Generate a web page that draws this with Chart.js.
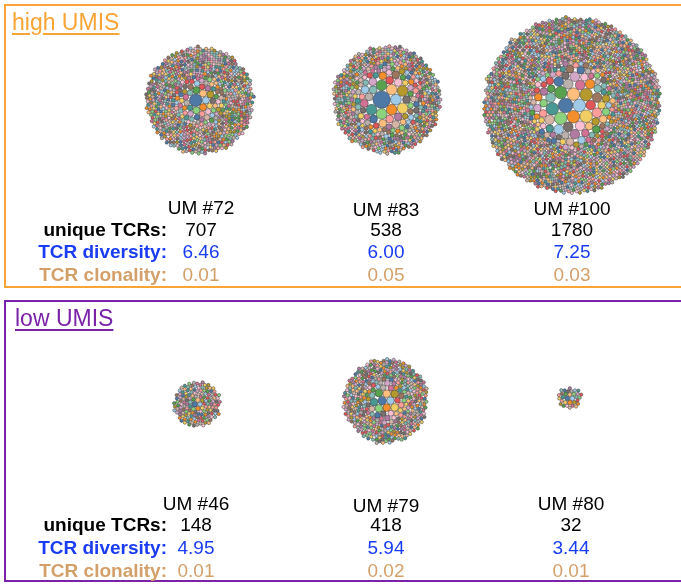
<!DOCTYPE html>
<html>
<head>
<meta charset="utf-8">
<script src="https://cdn.jsdelivr.net/npm/chart.js@4.4.1/dist/chart.umd.min.js"></script>
<style>
  html, body { margin: 0; padding: 0; background: #fff; width: 681px; height: 584px; overflow: hidden; }
  #wrap { position: relative; width: 681px; height: 584px; overflow: hidden; font-family: "Liberation Sans", Arial, sans-serif; }
  #chart { position: absolute; left: 0; top: 0; }
  .panel { position: absolute; left: 4px; width: 720px; box-sizing: border-box; border: 2.5px solid; }
  .title { position: absolute; font-size: 23px; line-height: 1; text-decoration: underline; text-underline-offset: 3px; }
  .t { position: absolute; white-space: nowrap; font-size: 19px; line-height: 1; transform: translate(-50%, -50%); }
  .lab { font-weight: bold; transform: translate(-100%, -50%); }
</style>
</head>
<body>
<div id="wrap">
  <canvas id="chart" width="681" height="584"></canvas>
</div>
<script>
// samples, top row then bottom row
const samples = ['UM #72', 'UM #83', 'UM #100', 'UM #46', 'UM #79', 'UM #80'];
const uniqueTCRs = [707, 538, 1780, 148, 418, 32];
const diversity = ['6.46', '6.00', '7.25', '4.95', '5.94', '3.44'];
const clonality = ['0.01', '0.05', '0.03', '0.01', '0.02', '0.01'];
const rowLabels = ['unique TCRs:', 'TCR diversity:', 'TCR clonality:'];
const groups = ['high UMIS', 'low UMIS'];

// biggest clones as [relative size, how many]; the rest are singletons
const topClones = [
    [[15, 1], [5, 6], [3.2, 15], [2.2, 30], [1.5, 40]],
    [[29, 1], [11, 8], [6, 15], [3.2, 30], [2, 50], [1.4, 60]],
    [[20, 1], [15, 8], [9, 14], [5.7, 24], [3.2, 35], [2, 40]],
    [[3, 1], [2, 3], [1.5, 6]],
    [[7, 1], [5.7, 8], [3.2, 12], [2, 20], [1.4, 30]],
    [[2.2, 3], [1.5, 6]]
];

const palette = ['#4e79a7', '#a0cbe8', '#f28e2b', '#ffbe7d', '#59a14f', '#8cd17d', '#b6992d', '#f1ce63',
    '#499894', '#86bcb6', '#e15759', '#ff9d9a', '#79706e', '#bab0ac', '#d37295', '#fabfd2',
    '#b07aa1', '#d4a6c8', '#9d7660', '#d7b5a6'];
const groupColors = ['#f8a535', '#7a22a8'];
const labelColors = ['#000000', '#1a3cf2', '#d4a06a'];

// layout
const W = 681, H = 584;
const centers = [[200, 100], [387, 100], [572, 105], [197, 404], [385, 401], [570, 398]];
const colX = [[201, 386, 572], [196, 386, 571]];
const titleY = [[207, 209, 208], [503, 505, 503]];
const rowY = [[229, 251, 274], [524, 547, 570]];
const R0 = 1.62;
const PAD = 0.1;
const BORDER = 0.55;

/**
 * Front-chain circle packing (same idea as d3.packSiblings)
 */
function place(b, a, c) {
    const dx = b.x - a.x, dy = b.y - a.y, d2 = dx * dx + dy * dy;
    if (d2) {
        let a2 = a.r + c.r; a2 *= a2;
        let b2 = b.r + c.r; b2 *= b2;
        if (a2 > b2) {
            const x = (d2 + b2 - a2) / (2 * d2);
            const y = Math.sqrt(Math.max(0, b2 / d2 - x * x));
            c.x = b.x - x * dx - y * dy;
            c.y = b.y - x * dy + y * dx;
        } else {
            const x = (d2 + a2 - b2) / (2 * d2);
            const y = Math.sqrt(Math.max(0, a2 / d2 - x * x));
            c.x = a.x + x * dx - y * dy;
            c.y = a.y + x * dy + y * dx;
        }
    } else {
        c.x = a.x + c.r;
        c.y = a.y;
    }
}

function intersects(a, b) {
    const dr = a.r + b.r - 1e-6, dx = b.x - a.x, dy = b.y - a.y;
    return dr > 0 && dr * dr > dx * dx + dy * dy;
}

function score(node) {
    const a = node._, b = node.next._, ab = a.r + b.r;
    const dx = (a.x * b.r + b.x * a.r) / ab, dy = (a.y * b.r + b.y * a.r) / ab;
    return dx * dx + dy * dy;
}

function packSiblings(circles) {
    const n = circles.length;
    let a = circles[0], b, c;
    a.x = 0; a.y = 0;
    if (n < 2) return;
    b = circles[1]; a.x = -b.r; b.x = a.r; b.y = 0;
    if (n < 3) return;
    place(b, a, c = circles[2]);
    a = { _: a }; b = { _: b }; c = { _: c };
    a.next = c.previous = b;
    b.next = a.previous = c;
    c.next = b.previous = a;

    pack: for (let i = 3; i < n; ++i) {
        place(a._, b._, circles[i]);
        c = { _: circles[i] };
        let j = b.next, k = a.previous, sj = b._.r, sk = a._.r;
        do {
            if (sj <= sk) {
                if (intersects(j._, c._)) {
                    b = j; a.next = b; b.previous = a; --i;
                    continue pack;
                }
                sj += j._.r; j = j.next;
            } else {
                if (intersects(k._, c._)) {
                    a = k; a.next = b; b.previous = a; --i;
                    continue pack;
                }
                sk += k._.r; k = k.previous;
            }
        } while (j !== k.next);

        c.previous = a; c.next = b; a.next = b.previous = b = c;
        let aa = score(a);
        while ((c = c.next) !== b) {
            const ca = score(c);
            if (ca < aa) { a = c; aa = ca; }
        }
        b = a.next;
    }
}

function cloneSizes(idx) {
    const sizes = [];
    topClones[idx].forEach(([size, count]) => {
        for (let i = 0; i < count; i++) sizes.push(size);
    });
    while (sizes.length < uniqueTCRs[idx]) sizes.push(1);
    return sizes;
}

function bubbleData(idx) {
    const circles = cloneSizes(idx).map(s => ({ r: R0 * Math.sqrt(s) + PAD, x: 0, y: 0 }));
    packSiblings(circles);
    let minX = Infinity, maxX = -Infinity, minY = Infinity, maxY = -Infinity;
    circles.forEach(c => {
        minX = Math.min(minX, c.x - c.r); maxX = Math.max(maxX, c.x + c.r);
        minY = Math.min(minY, c.y - c.r); maxY = Math.max(maxY, c.y + c.r);
    });
    const [cx, cy] = centers[idx];
    const mx = (minX + maxX) / 2, my = (minY + maxY) / 2;
    return circles.map(c => ({ x: cx + c.x - mx, y: cy + c.y - my, r: c.r - PAD }));
}

const allData = samples.map((_, i) => bubbleData(i));
// Chart.js pads the chart area by the largest bubble; shift the scales so 1 unit = 1 px
let overflow = 0;
allData.forEach(d => d.forEach(p => { overflow = Math.max(overflow, p.r + BORDER); }));

new Chart(document.getElementById('chart'), {
    type: 'bubble',
    data: {
        datasets: samples.map((name, i) => ({
            label: name,
            data: allData[i],
            backgroundColor: ctx => palette[ctx.dataIndex % palette.length],
            borderColor: 'rgba(50, 50, 50, 0.9)',
            borderWidth: BORDER,
            clip: false
        }))
    },
    options: {
        responsive: false,
        animation: false,
        devicePixelRatio: 1,
        events: [],
        layout: { padding: 0 },
        plugins: { legend: { display: false }, tooltip: { enabled: false } },
        scales: {
            x: { type: 'linear', min: overflow, max: W - overflow, display: false },
            y: { type: 'linear', min: overflow, max: H - overflow, reverse: true, display: false }
        }
    }
});

// frames, titles and the stats text
const wrap = document.getElementById('wrap');
function addEl(cls, text, css) {
    const el = document.createElement('div');
    el.className = cls;
    el.textContent = text;
    Object.assign(el.style, css);
    wrap.appendChild(el);
    return el;
}

const panelTop = [4, 300];
const panelHeight = [284, 282];
groups.forEach((g, p) => {
    addEl('panel', '', { top: panelTop[p] + 'px', height: panelHeight[p] + 'px', borderColor: groupColors[p] });
    addEl('title', g, { left: (p === 0 ? 12 : 15) + 'px', top: (panelTop[p] + 7) + 'px', color: groupColors[p] });
    rowLabels.forEach((lab, r) => {
        addEl('t lab', lab, { left: '167px', top: rowY[p][r] + 'px', color: labelColors[r] });
    });
    for (let c = 0; c < 3; c++) {
        const idx = p * 3 + c;
        const x = colX[p][c] + 'px';
        addEl('t', samples[idx], { left: x, top: titleY[p][c] + 'px' });
        [uniqueTCRs[idx], diversity[idx], clonality[idx]].forEach((v, r) => {
            addEl('t', String(v), { left: x, top: rowY[p][r] + 'px', color: labelColors[r] });
        });
    }
});
</script>
</body>
</html>
